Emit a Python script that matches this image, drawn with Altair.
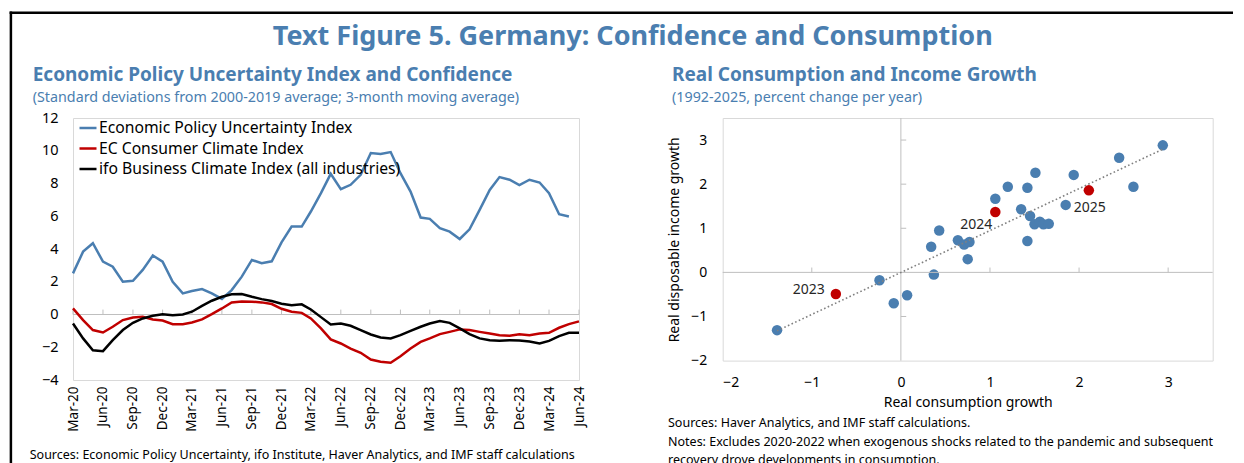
import altair as alt
import pandas as pd

# ---------------- Left panel data (monthly, Mar-20 .. Jun-24) ----------------
months = []
for y in range(2020, 2025):
    for m in range(1, 13):
        if (y == 2020 and m < 3) or (y == 2024 and m > 6):
            continue
        months.append(f"{y}-{m:02d}-01")

epu = [2.51, 3.84, 4.35, 3.23, 2.92, 2.00, 2.06, 2.72, 3.60, 3.23,
       2.00, 1.29, 1.43, 1.55, 1.29, 0.95, 1.49, 2.31, 3.33, 3.13, 3.25, 4.40,
       5.37, 5.37, 6.29, 7.41, 8.59, 7.65, 7.92, 8.53, 9.86, 9.80, 9.92, 8.63,
       7.51, 5.92, 5.84, 5.27, 5.06, 4.61, 5.20, 6.39, 7.61, 8.39, 8.23, 7.90,
       8.23, 8.06, 7.41, 6.12, 5.98]
ec_consumer = [0.37, -0.34, -0.95, -1.10, -0.75, -0.34, -0.18, -0.14, -0.30, -0.37,
               -0.59, -0.59, -0.49, -0.30, 0.02, 0.37, 0.74, 0.80, 0.78, 0.74, 0.64, 0.35,
               0.17, 0.10, -0.24, -0.85, -1.52, -1.77, -2.08, -2.34, -2.75, -2.89, -2.95, -2.55,
               -2.08, -1.67, -1.46, -1.20, -1.06, -0.91, -0.95, -1.06, -1.16, -1.26, -1.30, -1.20,
               -1.26, -1.16, -1.12, -0.81, -0.59, -0.42]
ifo = [-0.55, -1.46, -2.18, -2.24, -1.57, -0.95, -0.51, -0.24, -0.08, 0.02,
       -0.04, 0.00, 0.17, 0.53, 0.84, 1.08, 1.23, 1.25, 1.08, 0.94, 0.82, 0.66,
       0.57, 0.62, 0.31, -0.16, -0.61, -0.55, -0.69, -0.95, -1.22, -1.40, -1.46, -1.26,
       -1.00, -0.75, -0.55, -0.40, -0.51, -0.85, -1.20, -1.46, -1.57, -1.61, -1.57, -1.59,
       -1.65, -1.77, -1.61, -1.32, -1.12, -1.12]
series_names = ["Economic Policy Uncertainty Index", "EC Consumer Climate Index",
                "ifo Business Climate Index (all industries)"]
quarter_ticks = months[::3]
left_y_ticks = [-4, -2, 0, 2, 4, 6, 8, 10, 12]

# ---------------- Right panel data ----------------
cons_growth = [-1.39, -0.24, -0.08, 0.07, 0.34, 0.43, 0.37, 0.64, 0.71, 0.77, 0.75,
               1.06, 1.20, 1.42, 1.51, 1.35, 1.45, 1.42, 1.50, 1.56, 1.60, 1.66,
               1.85, 1.94, 2.45, 2.61, 2.94]
inc_growth = [-1.31, -0.18, -0.70, -0.52, 0.58, 0.95, -0.05, 0.73, 0.63, 0.69, 0.30,
              1.67, 1.94, 1.92, 2.26, 1.43, 1.28, 0.71, 1.09, 1.15, 1.09, 1.10,
              1.53, 2.21, 2.60, 1.94, 2.88]
hl_years = ["2023", "2024", "2025"]
hl_cons = [-0.73, 1.06, 2.11]
hl_inc = [-0.49, 1.37, 1.86]
right_ticks = [-2, -1, 0, 1, 2, 3]
zero_line_ticks = [-1, 1, 2, 3]

BLUE = "#4a7eb0"
RED = "#c00000"
FONT = "Noto Sans"

# ---------------- frames ----------------
long_rows = []
for name, vals in zip(series_names, [epu, ec_consumer, ifo]):
    for d, v in zip(months, vals):
        long_rows.append({"date": d, "series": name, "value": v})
df_left = pd.DataFrame(long_rows)
df_qt = pd.DataFrame({"date": quarter_ticks, "value": [0] * len(quarter_ticks),
                      "value2": [0.3] * len(quarter_ticks)})


def txt(s, x, y, size, color="black", weight="normal", align="left"):
    return alt.Chart(pd.DataFrame({"t": [s]})).mark_text(
        align=align, baseline="alphabetic", fontSize=size, fontWeight=weight,
        color=color, font=FONT
    ).encode(text="t:N", x=alt.value(x), y=alt.value(y))


one = pd.DataFrame({"k": [0]})

x_left = alt.X("date:T",
               scale=alt.Scale(type="utc", domain=[months[0], months[-1]], nice=False),
               axis=alt.Axis(values=quarter_ticks, format="%b-%y", labelAngle=-90,
                             labelFontSize=13.5, ticks=False, domain=False, grid=False,
                             labelPadding=6, title=None, labelColor="black",
                             labelOverlap=False, labelSeparation=0))
y_left = alt.Y("value:Q", scale=alt.Scale(domain=[-4, 12], nice=False),
               axis=alt.Axis(values=left_y_ticks, grid=False, ticks=False, domain=False,
                             labelPadding=15, labelFontSize=14.5, title=None, labelColor="black",
                             labelOverlap=False, labelSeparation=0))

lines = alt.Chart(df_left).mark_line(strokeWidth=2.5).encode(
    x=x_left,
    y=y_left,
    color=alt.Color("series:N", sort=series_names,
                    scale=alt.Scale(domain=series_names, range=[BLUE, RED, "black"]),
                    legend=alt.Legend(orient="none", legendX=5, legendY=0, title=None,
                                      symbolType="stroke", symbolSize=289,
                                      symbolStrokeWidth=2.5, labelFontSize=15.7,
                                      labelOffset=1, rowPadding=2.5, padding=0,
                                      labelLimit=500, labelColor="black")),
)

zero_left = alt.Chart(pd.DataFrame({"value": [0]})).mark_rule(
    color="#bfbfbf", strokeWidth=1).encode(y=y_left)
zero_ticks_left = alt.Chart(df_qt).mark_rule(color="#bfbfbf", strokeWidth=1).encode(
    x=x_left, y=y_left, y2="value2:Q")

frame_top = alt.Chart(one).mark_rule(color="black", strokeWidth=2.5).encode(
    x=alt.value(-63.4), x2=alt.value(1160), y=alt.value(-105.3))
frame_left = alt.Chart(one).mark_rule(color="black", strokeWidth=2.5).encode(
    x=alt.value(-62.1), y=alt.value(-106.5), y2=alt.value(352))

left = alt.layer(
    zero_left, zero_ticks_left, lines,
    txt("Text Figure 5. Germany: Confidence and Consumption", 559.7, -73, 27, BLUE, "bold", "center"),
    txt("Economic Policy Uncertainty Index and Confidence", -40.3, -37, 19, BLUE, "bold"),
    txt("(Standard deviations from 2000-2019 average; 3-month moving average)", -40.3, -16, 14.3, BLUE),
    txt("Sources: Economic Policy Uncertainty, ifo Institute, Haver Analytics, and IMF staff calculations",
        -43.3, 341, 12.5),
    frame_top, frame_left
).properties(width=506, height=262)

# ---------------- right panel ----------------
df_hist = pd.DataFrame({"cons": cons_growth, "inc": inc_growth})
df_hl = pd.DataFrame({"cons": hl_cons, "inc": hl_inc, "year": hl_years})
df_all = pd.DataFrame({"cons": cons_growth + hl_cons, "inc": inc_growth + hl_inc})

x_right = alt.X("cons:Q", scale=alt.Scale(domain=[-2, 3.5], nice=False),
                axis=alt.Axis(values=right_ticks, format="d", grid=False, ticks=False,
                              domain=False, labelOverlap=False,
                              labelPadding=15, labelFontSize=14, labelColor="black",
                              title="Real consumption growth", titleFontSize=14,
                              titleFontWeight="normal", titlePadding=6, titleColor="black"))
y_right = alt.Y("inc:Q", scale=alt.Scale(domain=[-2, 3.5], nice=False),
                axis=alt.Axis(values=right_ticks, format="d", grid=False, ticks=False,
                              domain=False, labelOverlap=False,
                              labelPadding=16, labelFontSize=14, labelColor="black",
                              title="Real disposable income growth", titleFontSize=14,
                              titleFontWeight="normal", titlePadding=9, titleColor="black"))

zx = alt.Chart(one).mark_rule(color="#bfbfbf", strokeWidth=1).encode(x=alt.datum(0))
zy = alt.Chart(one).mark_rule(color="#bfbfbf", strokeWidth=1).encode(y=alt.datum(0))
df_zt = pd.DataFrame({"v": zero_line_ticks})
tx = alt.Chart(df_zt).mark_rule(color="#bfbfbf").encode(
    x=alt.X("v:Q"), y=alt.datum(0), y2=alt.datum(0.11))
ty = alt.Chart(df_zt).mark_rule(color="#bfbfbf").encode(
    y=alt.Y("v:Q"), x=alt.datum(0), x2=alt.datum(0.06))

trend = alt.Chart(df_all).transform_regression("cons", "inc").mark_line(
    color="#808080", strokeWidth=1.6, strokeDash=[1.6, 2.4]).encode(x="cons:Q", y="inc:Q")

pts_hist = alt.Chart(df_hist).mark_circle(size=110, opacity=1, color=BLUE).encode(
    x=x_right, y=y_right)
pts_hl = alt.Chart(df_hl).mark_circle(size=110, opacity=1, color=RED).encode(
    x="cons:Q", y="inc:Q")


def yl(year, align, dx, dy):
    return alt.Chart(df_hl).transform_filter(alt.datum.year == year).mark_text(
        align=align, baseline="middle", dx=dx, dy=dy, fontSize=14, color="#262626", font=FONT
    ).encode(x="cons:Q", y="inc:Q", text="year:N")


right = alt.layer(
    pts_hist, zx, zy, tx, ty, trend, pts_hl,
    yl("2023", "right", -11, -4), yl("2024", "right", -3, 13.5), yl("2025", "center", 1, 17.4),
    txt("Real Consumption and Income Growth", -50.7, -37, 19, BLUE, "bold"),
    txt("(1992-2025, percent change per year)", -50.7, -16, 14.3, BLUE),
    txt("Sources: Haver Analytics, and IMF staff calculations.", -54.7, 309, 12.5),
    txt("Notes: Excludes 2020-2022 when exogenous shocks related to the pandemic and subsequent",
        -54.7, 328, 12.5),
    txt("recovery drove developments in consumption.", -54.7, 346, 12.5),
).properties(width=490, height=242.6)

chart = alt.hconcat(left, right, spacing=143.7, bounds="flush").properties(
    padding={"left": -1, "top": 1, "right": 0, "bottom": 0}
).configure(font=FONT).configure_view(stroke="#d9d9d9", strokeWidth=1).configure_axis(
    labelOverlap=False)

chart.save("out.html", embed_options={"renderer": "svg", "actions": False})
